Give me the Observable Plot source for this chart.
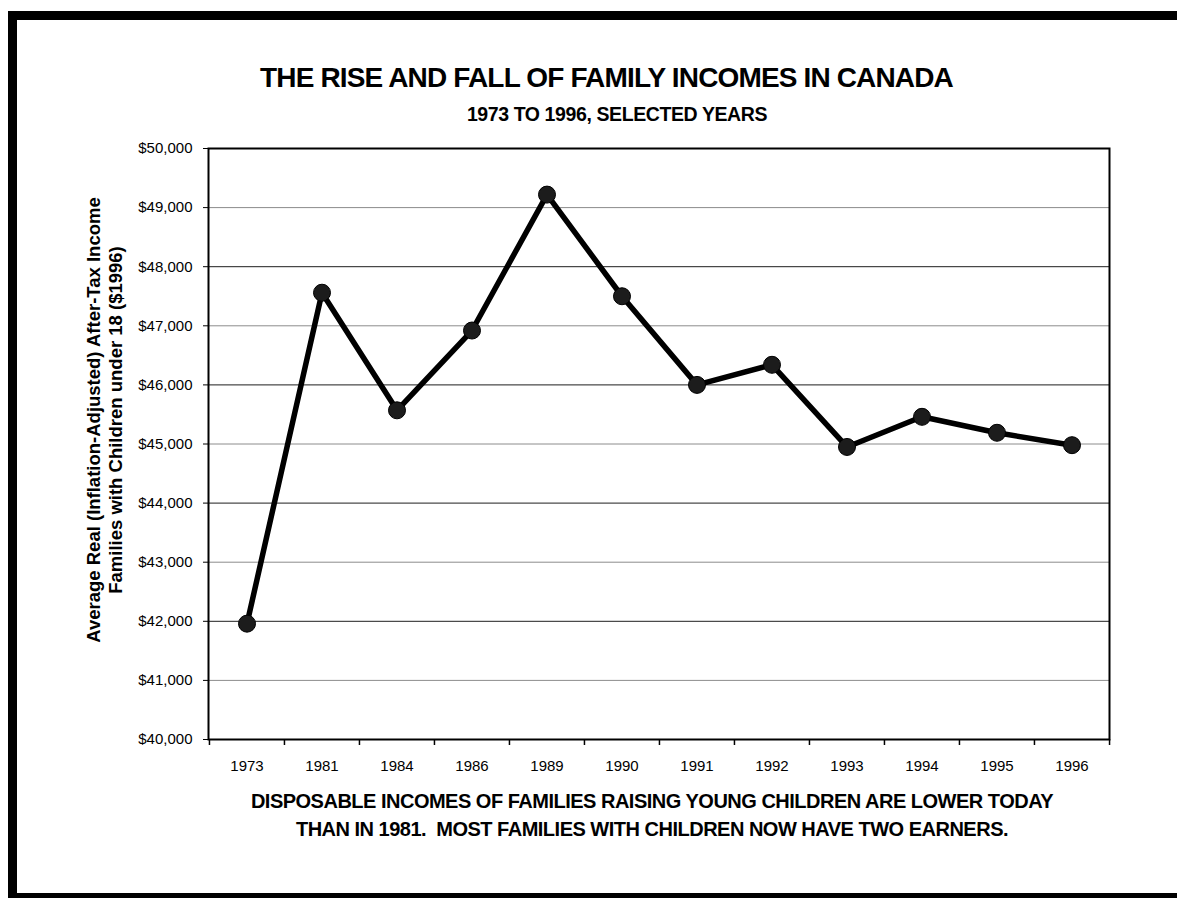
<!DOCTYPE html>
<html>
<head>
<meta charset="utf-8">
<script src="https://cdn.jsdelivr.net/npm/d3@7"></script>
<script src="https://cdn.jsdelivr.net/npm/@observablehq/plot@0.6"></script>
<style>
  body { margin: 0; background: #fff; }
  #page { position: relative; width: 1177px; height: 898px; overflow: hidden; background: #fff;
          font-family: "Liberation Sans", Arial, Helvetica, sans-serif; color: #000; }
  .bar { position: absolute; background: #000; }
  .title { position: absolute; left: 0; text-align: center; font-weight: bold;
           white-space: nowrap; line-height: 1; }
  #title { top: 64px; width: 1213px; font-size: 28px; letter-spacing: -0.85px; }
  #subtitle { top: 105px; width: 1234px; font-size: 19.5px; letter-spacing: -0.4px; }
  #caption { position: absolute; left: 152px; width: 1000px; top: 787px; text-align: center;
             font-weight: bold; font-size: 20px; line-height: 28px; letter-spacing: -0.5px; white-space: nowrap; }
  #chart { position: absolute; left: 0; top: 130px; }
</style>
</head>
<body>
<div id="page">
  <div class="bar" style="left:8px;top:11px;width:9px;height:887px"></div>
  <div class="bar" style="left:8px;top:11px;width:1169px;height:9px"></div>
  <div class="bar" style="left:8px;top:893px;width:1169px;height:5px"></div>
  <div class="title" id="title">THE RISE AND FALL OF FAMILY INCOMES IN CANADA</div>
  <div class="title" id="subtitle">1973 TO 1996, SELECTED YEARS</div>
  <div id="chart"></div>
  <div id="caption">DISPOSABLE INCOMES OF FAMILIES RAISING YOUNG CHILDREN ARE LOWER TODAY<br>THAN IN 1981.&nbsp; MOST FAMILIES WITH CHILDREN NOW HAVE TWO EARNERS.</div>
</div>
<script>
// Selected survey years (categorical axis)
const years = ["1973", "1981", "1984", "1986", "1989", "1990", "1991", "1992", "1993", "1994", "1995", "1996"];

// Average real after-tax income of families with children under 18, in 1996 dollars
const incomes = [41960, 47560, 45570, 46920, 49220, 47500, 46000, 46340, 44950, 45460, 45190, 44980];

// Value-axis ticks
const yTicks = [40000, 41000, 42000, 43000, 44000, 45000, 46000, 47000, 48000, 49000, 50000];

const yLabel = "Average Real (Inflation-Adjusted) After-Tax Income\nFamilies with Children under 18 ($1996)";

const rows = years.map((year, i) => ({year, income: incomes[i]}));

const width = 1177, height = 659;
const margin = {top: 18, right: 68, bottom: 50, left: 208};
const innerW = width - margin.left - margin.right;
const innerH = height - margin.top - margin.bottom;
const band = innerW / years.length;
const dollars = d => "$" + d3.format(",")(d);

const chart = Plot.plot({
  width, height,
  marginTop: margin.top, marginRight: margin.right, marginBottom: margin.bottom, marginLeft: margin.left,
  style: {fontFamily: "'Liberation Sans', Arial, sans-serif", background: "transparent", color: "#000"},
  x: {type: "band", domain: years, padding: 0},
  y: {domain: [40000, 50000]},
  marks: [
    // horizontal gridlines at every $1,000
    Plot.ruleY(yTicks.slice(1, -1), {stroke: d => (d / 1000) % 2 ? "#8c8c8c" : "#1e1e1e", strokeWidth: 1}),
    // category boundary ticks below the axis
    Plot.ruleX(years, {x: d => d, dx: -band / 2, insetTop: innerH, insetBottom: -6, stroke: "#000", strokeWidth: 1.5}),
    Plot.ruleX(years.slice(-1), {x: d => d, dx: band / 2, insetTop: innerH, insetBottom: -6, stroke: "#000", strokeWidth: 1.5}),
    Plot.axisY({ticks: yTicks, tickFormat: dollars, tickSize: 5, tickPadding: 11, fontSize: 15, label: null}),
    Plot.axisX({tickSize: 0, tickPadding: 21, fontSize: 15, label: null}),
    Plot.frame({stroke: "#000", strokeWidth: 2}),
    Plot.text([yLabel], {frameAnchor: "left", rotate: -90, dx: -105, dy: -24, textAnchor: "middle",
      lineAnchor: "middle", lineHeight: 1.19, fontSize: 18.5, fontWeight: "bold"}),
    Plot.line(rows, {x: "year", y: "income", stroke: "#000", strokeWidth: 5.5, strokeLinejoin: "round"}),
    Plot.dot(rows, {x: "year", y: "income", r: 8.5, fill: "#1c1c1c", stroke: "#000", strokeWidth: 1})
  ]
});

document.getElementById("chart").appendChild(chart);
</script>
</body>
</html>
